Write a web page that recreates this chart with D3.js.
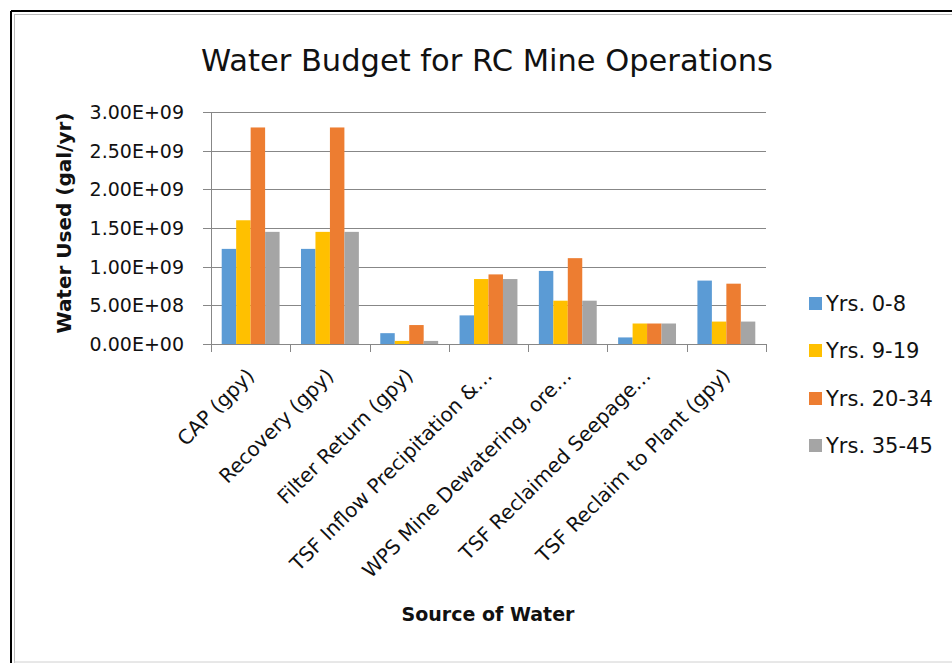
<!DOCTYPE html>
<html>
<head>
<meta charset="utf-8">
<script src="https://cdn.jsdelivr.net/npm/d3@7"></script>
<style>
  body { margin: 0; background: white; }
  text { font-family: "DejaVu Sans", sans-serif; fill: #111; }
</style>
</head>
<body>
<div id="canvas"></div>
<script>
"use strict"

/* chart data */
let categories = ["CAP (gpy)", "Recovery (gpy)", "Filter Return (gpy)", "TSF Inflow Precipitation &\u2026",
    "WPS Mine Dewatering, ore\u2026", "TSF Reclaimed Seepage\u2026", "TSF Reclaim to Plant (gpy)"];
let seriesNames = ["Yrs. 0-8", "Yrs. 9-19", "Yrs. 20-34", "Yrs. 35-45"];
let yrs0to8 = [1.23e9, 1.23e9, 1.4e8, 3.7e8, 9.45e8, 8.5e7, 8.2e8];
let yrs9to19 = [1.60e9, 1.45e9, 4.0e7, 8.4e8, 5.6e8, 2.65e8, 2.9e8];
let yrs20to34 = [2.80e9, 2.80e9, 2.45e8, 9.0e8, 1.11e9, 2.65e8, 7.8e8];
let yrs35to45 = [1.45e9, 1.45e9, 4.0e7, 8.4e8, 5.6e8, 2.65e8, 2.9e8];
let yTicks = [0, 5e8, 1e9, 1.5e9, 2e9, 2.5e9, 3e9];
let tickLabels = ["0.00E+00", "5.00E+08", "1.00E+09", "1.50E+09", "2.00E+09", "2.50E+09", "3.00E+09"];

let series = [yrs0to8, yrs9to19, yrs20to34, yrs35to45];
let colors = ["#5B9BD5", "#FFC000", "#ED7D31", "#A5A5A5"];

let drawing = d3.select("#canvas")
    .append("svg")
    .attr("width", 952)
    .attr("height", 663);

// frame round the chart
drawing.append("rect")
    .attr("x", 0).attr("y", 0).attr("width", 952).attr("height", 663)
    .attr("fill", "white");
drawing.append("line")
    .attr("x1", 11).attr("y1", 11).attr("x2", 952).attr("y2", 11)
    .attr("stroke", "black").attr("stroke-width", 2);
drawing.append("line")
    .attr("x1", 11).attr("y1", 11).attr("x2", 11).attr("y2", 663)
    .attr("stroke", "black").attr("stroke-width", 2);
drawing.append("line")
    .attr("x1", 14).attr("y1", 14.5).attr("x2", 952).attr("y2", 14.5)
    .attr("stroke", "#bbb").attr("stroke-width", 1);
drawing.append("line")
    .attr("x1", 14.5).attr("y1", 14).attr("x2", 14.5).attr("y2", 663)
    .attr("stroke", "#bbb").attr("stroke-width", 1);
drawing.append("line")
    .attr("x1", 14).attr("y1", 662).attr("x2", 952).attr("y2", 662)
    .attr("stroke", "#d0d0d0").attr("stroke-width", 1);

let plotLeft = 211, plotRight = 766, plotTop = 112, plotBottom = 344;

let x = d3.scaleBand()
    .domain(categories)
    .range([plotLeft, plotRight])
    .paddingInner(0.27)
    .paddingOuter(0.135);

let xs = d3.scaleBand()
    .domain(d3.range(series.length))
    .range([0, x.bandwidth()]);

let y = d3.scaleLinear()
    .domain([0, 3e9])
    .range([plotBottom, plotTop]);

// gridlines
drawing.append("g")
    .selectAll("line")
    .data(yTicks)
    .join("line")
    .attr("x1", plotLeft - 8)
    .attr("x2", plotRight)
    .attr("y1", d => Math.round(y(d)) + 0.5)
    .attr("y2", d => Math.round(y(d)) + 0.5)
    .attr("stroke", "#878787")
    .attr("stroke-width", 1);

// y tick labels
drawing.append("g")
    .selectAll("text")
    .data(yTicks)
    .join("text")
    .attr("x", 184)
    .attr("y", d => y(d))
    .attr("dy", "0.36em")
    .attr("text-anchor", "end")
    .attr("font-size", 19)
    .text((d, i) => tickLabels[i]);

// bars
series.forEach((values, s) => {
    drawing.append("g")
        .selectAll("rect")
        .data(values)
        .join("rect")
        .attr("x", (d, i) => x(categories[i]) + xs(s))
        .attr("width", xs.bandwidth())
        .attr("y", d => y(d))
        .attr("height", d => y(0) - y(d))
        .attr("fill", colors[s]);
});

// axes lines
drawing.append("line")
    .attr("x1", plotLeft + 0.5).attr("x2", plotLeft + 0.5)
    .attr("y1", plotTop).attr("y2", plotBottom)
    .attr("stroke", "#878787");
drawing.append("line")
    .attr("x1", plotLeft).attr("x2", plotRight)
    .attr("y1", plotBottom + 0.5).attr("y2", plotBottom + 0.5)
    .attr("stroke", "#878787");

// x tick marks at category boundaries
let step = (plotRight - plotLeft) / categories.length;
drawing.append("g")
    .selectAll("line")
    .data(d3.range(categories.length + 1))
    .join("line")
    .attr("x1", d => Math.round(plotLeft + d * step) + 0.5)
    .attr("x2", d => Math.round(plotLeft + d * step) + 0.5)
    .attr("y1", plotBottom)
    .attr("y2", plotBottom + 8)
    .attr("stroke", "#878787");

// x labels, rotated
drawing.append("g")
    .selectAll("text")
    .data(categories)
    .join("text")
    .attr("transform", d => "translate(" + (x(d) + x.bandwidth() / 2) + "," + (plotBottom + 28) + ") rotate(-45)")
    .attr("text-anchor", "end")
    .attr("dy", "0.35em")
    .attr("font-size", 20)
    .text(d => d);

// titles
drawing.append("text")
    .attr("x", 487)
    .attr("y", 71)
    .attr("text-anchor", "middle")
    .attr("font-size", 30.5)
    .text("Water Budget for RC Mine Operations");

drawing.append("text")
    .attr("transform", "translate(71,223) rotate(-90)")
    .attr("text-anchor", "middle")
    .attr("font-size", 20)
    .attr("font-weight", "bold")
    .text("Water Used (gal/yr)");

drawing.append("text")
    .attr("x", 488)
    .attr("y", 621)
    .attr("text-anchor", "middle")
    .attr("font-size", 19)
    .attr("font-weight", "bold")
    .text("Source of Water");

// legend
let legendY = [303, 350, 398, 445];
let legend = drawing.append("g")
    .selectAll("g")
    .data(seriesNames)
    .join("g")
    .attr("transform", (d, i) => "translate(809," + legendY[i] + ")");
legend.append("rect")
    .attr("x", 0).attr("y", -6)
    .attr("width", 13).attr("height", 13)
    .attr("fill", (d, i) => colors[i]);
legend.append("text")
    .attr("x", 17)
    .attr("dy", "0.36em")
    .attr("font-size", 21)
    .text(d => d);
</script>
</body>
</html>
